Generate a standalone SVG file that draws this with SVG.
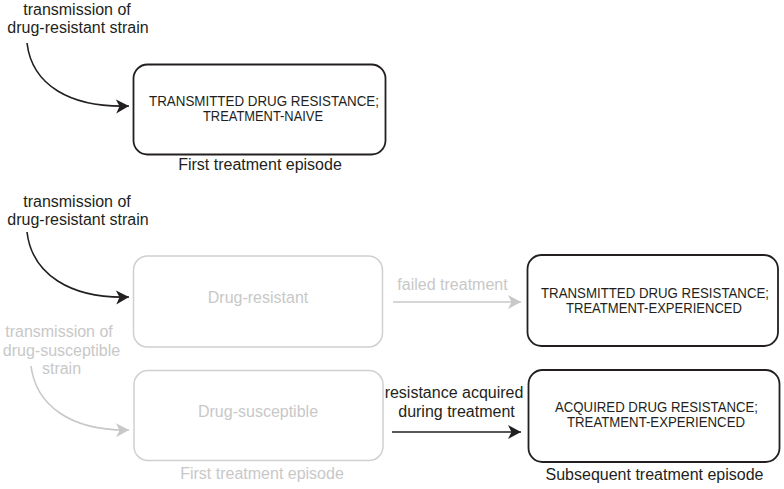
<svg xmlns="http://www.w3.org/2000/svg" width="784" height="489" viewBox="0 0 784 489">
<defs>
<style>
text{font-family:"Liberation Sans",Arial,sans-serif;text-anchor:middle}
.lbl{font-size:16px;fill:#231f20}
.glbl{font-size:16px;fill:#c8c8c8}
.cap{font-size:15px;fill:#231f20}
.box{fill:#fff;stroke:#231f20;stroke-width:1.8}
.gbox{fill:#fff;stroke:#d0d0d0;stroke-width:1.5}
.k{fill:none;stroke:#231f20;stroke-width:1.6}
.g{fill:none;stroke:#c8c8c8;stroke-width:1.6}
</style>
<marker id="ak" markerUnits="userSpaceOnUse" markerWidth="14" markerHeight="16" refX="13" refY="8" orient="auto" viewBox="0 0 14 16"><path d="M0,1 L13,8 L0,15 L3.5,8 z" fill="#231f20"/></marker>
<marker id="ag" markerUnits="userSpaceOnUse" markerWidth="14" markerHeight="16" refX="13" refY="8" orient="auto" viewBox="0 0 14 16"><path d="M0,1 L13,8 L0,15 L3.5,8 z" fill="#c8c8c8"/></marker>
</defs>

<g id="connectors">
<path class="k" d="M27,43 C32,85 70,108 129,106" marker-end="url(#ak)"/>
<path class="k" d="M27,232 C32,274 70,299 129,297" marker-end="url(#ak)"/>
<path class="g" d="M31,366 C36,405 70,431 129,430" marker-end="url(#ag)"/>
<path class="g" d="M393,302 L521,302" marker-end="url(#ag)"/>
<path class="k" d="M392,432 L521,432" marker-end="url(#ak)"/>
</g>

<g id="label-top-transmission">
<text class="lbl" x="77" y="15">transmission of</text>
<text class="lbl" x="78" y="33">drug-resistant strain</text>
</g>

<g id="node-tdr-naive">
<rect class="box" x="133.5" y="64.5" width="252" height="90" rx="14"/>
<text class="cap" x="264" y="105.5" textLength="230" lengthAdjust="spacingAndGlyphs">TRANSMITTED DRUG RESISTANCE;</text>
<text class="cap" x="263" y="121" textLength="120" lengthAdjust="spacingAndGlyphs">TREATMENT-NAIVE</text>
</g>
<text class="lbl" x="260" y="170">First treatment episode</text>

<g id="label-mid-transmission">
<text class="lbl" x="77" y="207">transmission of</text>
<text class="lbl" x="78" y="225">drug-resistant strain</text>
</g>

<g id="label-susceptible-transmission">
<text class="glbl" x="59" y="337">transmission of</text>
<text class="glbl" x="61.5" y="356">drug-susceptible</text>
<text class="glbl" x="61.5" y="374">strain</text>
</g>

<g id="node-drug-resistant">
<rect class="gbox" x="133.5" y="256" width="249" height="91" rx="14"/>
<text class="glbl" x="258" y="302.5">Drug-resistant</text>
</g>

<g id="node-drug-susceptible">
<rect class="gbox" x="134" y="370.5" width="249" height="90" rx="14"/>
<text class="glbl" x="258" y="416.5">Drug-susceptible</text>
</g>
<text class="glbl" x="262" y="479">First treatment episode</text>

<text class="glbl" x="452.5" y="290">failed treatment</text>
<text class="lbl" x="454" y="398">resistance acquired</text>
<text class="lbl" x="456.5" y="416.5">during treatment</text>

<g id="node-tdr-experienced">
<rect class="box" x="527.5" y="255" width="250.5" height="91" rx="14"/>
<text class="cap" x="655" y="298" textLength="228" lengthAdjust="spacingAndGlyphs">TRANSMITTED DRUG RESISTANCE;</text>
<text class="cap" x="654" y="313" textLength="176" lengthAdjust="spacingAndGlyphs">TREATMENT-EXPERIENCED</text>
</g>

<g id="node-adr-experienced">
<rect class="box" x="528.5" y="370" width="251" height="92" rx="14"/>
<text class="cap" x="656.5" y="411.5" textLength="203" lengthAdjust="spacingAndGlyphs">ACQUIRED DRUG RESISTANCE;</text>
<text class="cap" x="656" y="427" textLength="178" lengthAdjust="spacingAndGlyphs">TREATMENT-EXPERIENCED</text>
</g>
<text class="lbl" x="654.5" y="480">Subsequent treatment episode</text>
</svg>
